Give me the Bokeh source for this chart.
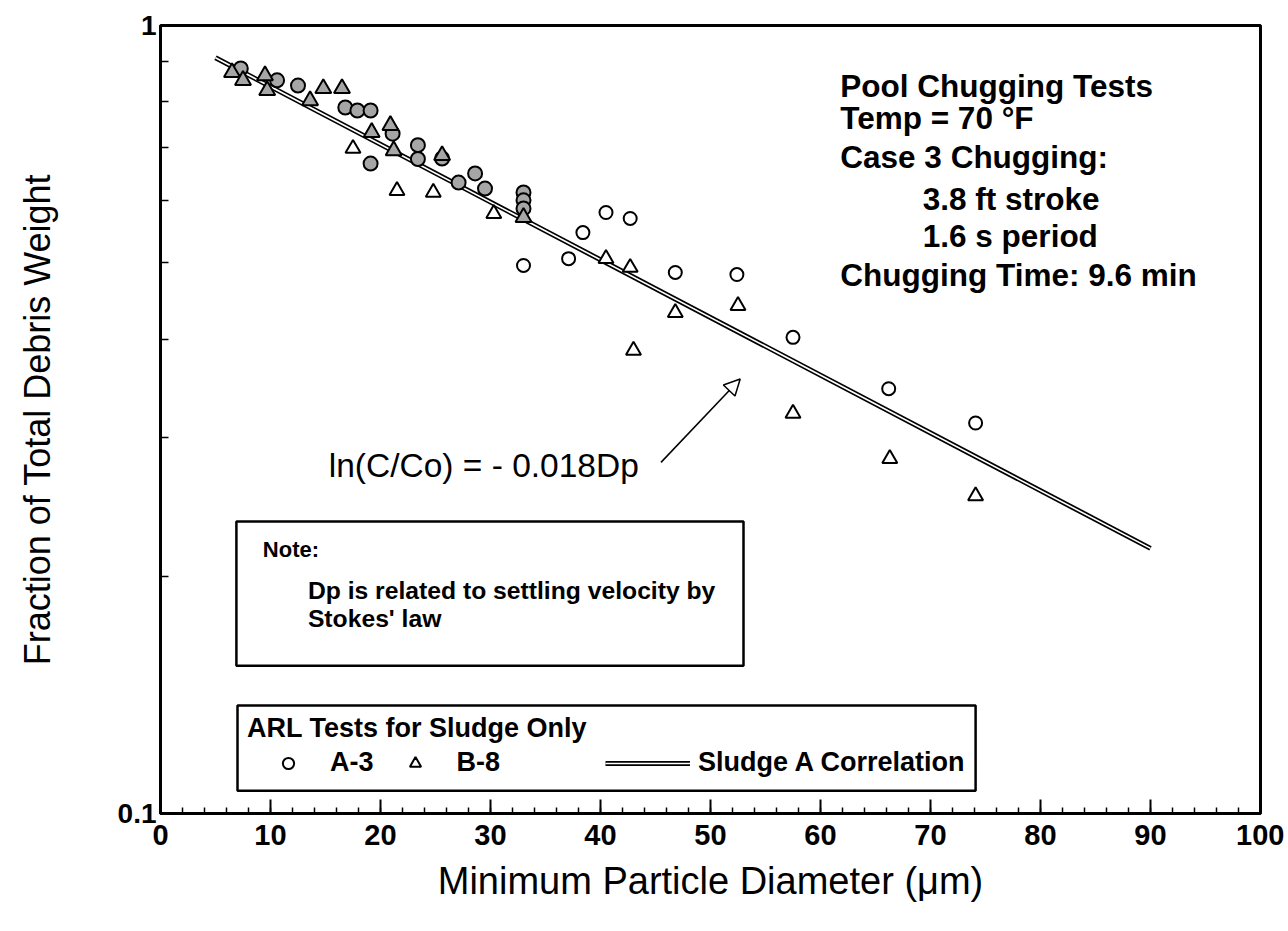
import math
from bokeh.plotting import figure
from bokeh.models import (SingleIntervalTicker, FixedTicker, CustomJSTickFormatter, Label,
                          BoxAnnotation, Arrow, NormalHead, Legend, LegendItem,
                          ColumnDataSource, CDSView, BooleanFilter)
from bokeh.embed import file_html
from bokeh.resources import INLINE

FONT = "Liberation Sans"

# ---- data ----
a3_x = [7.3, 10.6, 12.5, 16.8, 17.9, 19.1, 19.1, 21.1, 23.4, 23.4, 25.6, 27.1, 28.6, 29.5,
        33.0, 33.0, 33.0, 33.0, 37.1, 38.4, 40.5, 42.7, 46.8, 52.4, 57.5, 66.2, 74.1]
a3_y = [0.882, 0.852, 0.839, 0.787, 0.780, 0.780, 0.668, 0.729, 0.705, 0.677, 0.678, 0.632,
        0.649, 0.621, 0.614, 0.600, 0.586, 0.496, 0.506, 0.546, 0.579, 0.569, 0.486, 0.483,
        0.402, 0.346, 0.313]

b8_x = [6.5, 7.5, 9.5, 9.7, 13.6, 14.8, 16.5, 17.5, 19.2, 20.9, 21.2, 21.5, 24.8, 25.6,
        30.3, 33.0, 40.5, 42.7, 43.0, 46.8, 52.5, 57.5, 66.3, 74.1]
b8_y = [0.872, 0.852, 0.864, 0.827, 0.803, 0.832, 0.832, 0.698, 0.732, 0.747, 0.694, 0.617,
        0.614, 0.684, 0.577, 0.571, 0.506, 0.493, 0.387, 0.432, 0.441, 0.322, 0.282, 0.253]

corr_x = [5, 90]
corr_y = [0.91, 0.217]

info_lines = ["Pool Chugging Tests", "Temp = 70  \u00b0F", "Case 3 Chugging:",
              "3.8 ft stroke", "1.6 s period", "Chugging Time: 9.6 min"]


def corr_at(x):
    l0, l1 = math.log10(corr_y[0]), math.log10(corr_y[1])
    return 10 ** (l0 + (l1 - l0) * (x - corr_x[0]) / (corr_x[1] - corr_x[0]))


# points packed on the correlation line appear stippled in the reference
gray_a = [x < 34 and y >= 0.9 * corr_at(x) for x, y in zip(a3_x, a3_y)]
gray_b = [x < 34 and y >= 0.975 * corr_at(x) for x, y in zip(b8_x, b8_y)]

p = figure(width=1284, height=925, x_range=(0, 100), y_range=(0.1, 1), y_axis_type="log",
           output_backend="svg", toolbar_location=None,
           min_border_left=160, min_border_right=24, min_border_top=25, min_border_bottom=112)

p.grid.visible = False
p.outline_line_color = "black"
p.outline_line_width = 3
p.outline_line_alpha = 1
p.background_fill_color = "white"
p.border_fill_color = "white"

# x axis
xa = p.xaxis[0]
xa.ticker = SingleIntervalTicker(interval=10, num_minor_ticks=5)
xa.axis_label = "Minimum Particle Diameter (\u03bcm)"
xa.axis_label_text_font = FONT
xa.axis_label_text_font_style = "normal"
xa.axis_label_text_font_size = "38px"
xa.axis_label_text_color = "black"
xa.axis_label_standoff = 12
xa.major_label_text_font = FONT
xa.major_label_text_font_style = "bold"
xa.major_label_text_font_size = "29px"
xa.major_label_text_color = "black"
xa.major_label_standoff = 11
xa.axis_line_width = 3
xa.axis_line_color = "black"
xa.major_tick_in = 14
xa.major_tick_out = 0
xa.minor_tick_in = 6
xa.minor_tick_out = 0
xa.major_tick_line_width = 2
xa.minor_tick_line_width = 1.5
xa.major_tick_line_color = "black"
xa.minor_tick_line_color = "black"

# y axis
ya = p.yaxis[0]
ya.ticker = FixedTicker(ticks=[0.1, 1], minor_ticks=[0.2, 0.3, 0.4, 0.5, 0.6, 0.7, 0.8, 0.9])
ya.formatter = CustomJSTickFormatter(code="return String(tick)")
ya.axis_label = "Fraction of Total Debris Weight"
ya.axis_label_text_font = FONT
ya.axis_label_text_font_style = "normal"
ya.axis_label_text_font_size = "36px"
ya.axis_label_text_color = "black"
ya.axis_label_standoff = 57
ya.major_label_text_font = FONT
ya.major_label_text_font_style = "bold"
ya.major_label_text_font_size = "28px"
ya.major_label_text_color = "black"
ya.major_label_standoff = 4
ya.axis_line_width = 3
ya.axis_line_color = "black"
ya.major_tick_in = 0
ya.major_tick_out = 0
ya.minor_tick_in = 8
ya.minor_tick_out = 0
ya.minor_tick_line_width = 1.5
ya.minor_tick_line_color = "black"

# correlation line (double line)
r_line_k = p.line(corr_x, corr_y, line_color="black", line_width=5)
r_line_w = p.line(corr_x, corr_y, line_color="white", line_width=1.6)

# data points
src_a = ColumnDataSource(dict(x=a3_x, y=a3_y))
src_b = ColumnDataSource(dict(x=b8_x, y=b8_y))

r_a_gray = p.scatter("x", "y", source=src_a, view=CDSView(filter=BooleanFilter(gray_a)),
                     marker="circle", size=14, fill_color="#a6a6a6", line_color="black", line_width=2)
r_b_gray = p.scatter("x", "y", source=src_b, view=CDSView(filter=BooleanFilter(gray_b)),
                     marker="triangle", size=16, fill_color="#a6a6a6", line_color="black", line_width=2)
r_a_open = p.scatter("x", "y", source=src_a, view=CDSView(filter=BooleanFilter([not g for g in gray_a])),
                     marker="circle", size=13, fill_color="white", line_color="black", line_width=2)
r_b_open = p.scatter("x", "y", source=src_b, view=CDSView(filter=BooleanFilter([not g for g in gray_b])),
                     marker="triangle", size=15, fill_color="white", line_color="black", line_width=2)

# info text block (top right)
info_x = [61.8, 61.8, 61.8, 69.3, 69.3, 61.8]
info_y = [0.839, 0.764, 0.680, 0.603, 0.540, 0.4817]
for tx, ty, t in zip(info_x, info_y, info_lines):
    p.add_layout(Label(x=tx, y=ty, text=t, text_font=FONT, text_font_style="bold",
                       text_font_size="31.5px", text_color="black",
                       text_baseline="middle", text_align="left"))

# correlation annotation
p.add_layout(Label(x=15.3, y=0.2765, text="ln(C/Co) = - 0.018Dp", text_font=FONT,
                   text_font_style="normal", text_font_size="33.5px", text_color="black",
                   text_baseline="middle"))
p.add_layout(Arrow(end=NormalHead(size=16, fill_color="white", line_color="black", line_width=1.5),
                   x_start=45.5, y_start=0.279, x_end=52.7, y_end=0.356,
                   line_width=1.5, line_color="black"))

# note box
p.add_layout(BoxAnnotation(left=6.9, right=53.0, top=0.2348, bottom=0.154,
                           fill_color="white", fill_alpha=1, line_color="black",
                           line_alpha=1, line_width=2.5))
p.add_layout(Label(x=9.3, y=0.2163, text="Note:", text_font=FONT, text_font_style="bold",
                   text_font_size="22px", text_color="black", text_baseline="middle"))
p.add_layout(Label(x=13.4, y=0.1919, text="Dp is related to settling velocity by", text_font=FONT,
                   text_font_style="bold", text_font_size="24.7px", text_color="black",
                   text_baseline="middle"))
p.add_layout(Label(x=13.4, y=0.1768, text="Stokes' law", text_font=FONT,
                   text_font_style="bold", text_font_size="24.7px", text_color="black",
                   text_baseline="middle"))

# legend frame
p.add_layout(BoxAnnotation(left=7.0, right=74.1, top=0.1371, bottom=0.1069,
                           fill_color="white", fill_alpha=1, line_color="black",
                           line_alpha=1, line_width=2.5))

leg_a = Legend(items=[LegendItem(label="A-3", renderers=[r_a_open]),
                      LegendItem(label="B-8", renderers=[r_b_open])],
               title="ARL Tests for Sludge Only", orientation="horizontal",
               location=(77, 25), margin=0, padding=10, spacing=0,
               glyph_width=82, glyph_height=28, label_standoff=1, title_standoff=3,
               border_line_alpha=0, background_fill_alpha=0)
leg_b = Legend(items=[LegendItem(label="Sludge A Correlation", renderers=[r_line_k, r_line_w])],
               orientation="horizontal", location=(435, 25), margin=0, padding=10,
               glyph_width=85, glyph_height=28, label_standoff=8,
               border_line_alpha=0, background_fill_alpha=0)
for lg in (leg_a, leg_b):
    lg.title_text_font = FONT
    lg.title_text_font_style = "bold"
    lg.title_text_font_size = "27px"
    lg.title_text_color = "black"
    lg.label_text_font = FONT
    lg.label_text_font_style = "bold"
    lg.label_text_font_size = "27px"
    lg.label_text_color = "black"
    p.add_layout(lg)

open("out.html", "w").write(file_html(p, INLINE))
